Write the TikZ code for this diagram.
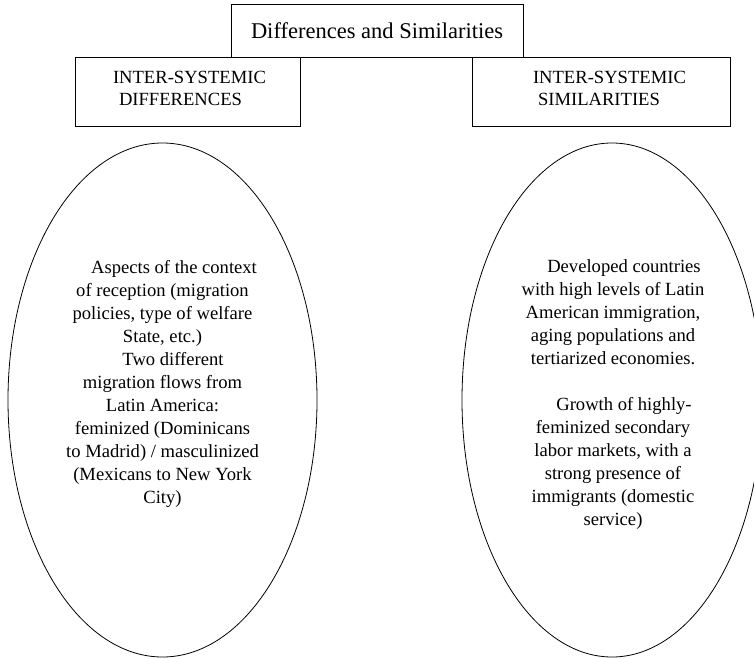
\documentclass[tikz,border=0pt]{standalone}
\usepackage{fontspec}
\setmainfont{Liberation Serif}
\usetikzlibrary{positioning,shapes.geometric}
\tikzset{
  head/.style={draw, line width=0.9pt, inner sep=0pt, minimum width=292pt, minimum height=53pt, font=\fontsize{22.5}{27}\selectfont},
  side/.style={draw, line width=0.9pt, inner sep=0pt, text width=#1, minimum height=69pt, align=left, font=\fontsize{18.6}{22}\selectfont},
  bubble/.style={draw, ellipse, line width=0.8pt, inner sep=0pt},
  bubbletext/.style={align=center, inner sep=0pt, font=\fontsize{18.6}{23}\selectfont}
}
\newcommand{\lowpad}{\rule[-6pt]{0pt}{6pt}}

\begin{document}
\begin{tikzpicture}[x=1pt,y=-1pt]
\useasboundingbox (0,0) rectangle (754,658);
% top heading and the two headers
\node[head] (title) at (377,30.5) {Differences and Similarities};
\node[side=225pt] (diff) at (187.5,91.5) {\hspace*{38pt}INTER-SYSTEMIC\\\hspace*{44pt}DIFFERENCES\lowpad};
\node[side=258pt] (sim) at (601,91.5) {\hspace*{61pt}INTER-SYSTEMIC\\\hspace*{66pt}SIMILARITIES\lowpad};
% the two ellipses
\node[bubble, minimum width=309pt, minimum height=514pt] (diffs) at (162.5,400) {};
\node[bubble, minimum width=300pt, minimum height=514pt] (sims) at (612,400) {};
\node[bubbletext] (diffstext) at (162.5,383.5) {\hspace*{23pt}Aspects of the context\\
of reception (migration\\
policies, type of welfare\\
State, etc.)\\
\hspace*{21pt}Two different\\
migration flows from\\
Latin America:\\
feminized (Dominicans\\
to Madrid) / masculinized\\
(Mexicans to New York\\
City)};
\node[bubbletext] (simstext) at (613,395) {\hspace*{22pt}Developed countries\\
with high levels of Latin\\
American immigration,\\
aging populations and\\
tertiarized economies.\\[23pt]
\hspace*{22pt}Growth of highly-\\
feminized secondary\\
labor markets, with a\\
strong presence of\\
immigrants (domestic\\
service)};
\end{tikzpicture}
\end{document}
